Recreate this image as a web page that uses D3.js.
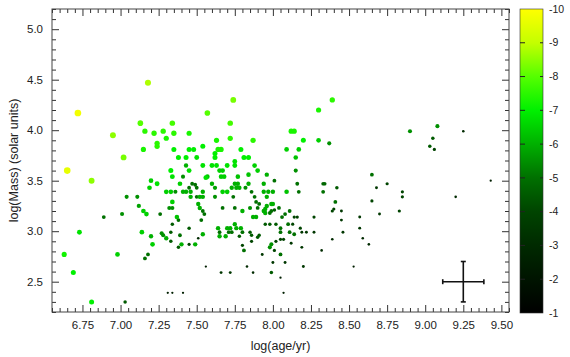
<!DOCTYPE html>
<html>
<head>
<meta charset="utf-8">
<script src="https://cdn.jsdelivr.net/npm/d3@7"></script>
<style>
body { margin: 0; background: #fff; }
svg text { font-family: "Liberation Sans", Arial, sans-serif; fill: #222; }
</style>
</head>
<body>
<svg id="chart" width="570" height="357"></svg>
<script>
// log(age/yr) of each cluster
const ageLog = [
  7.18,6.72,6.95,7.02,6.65,6.81,7.13,7.34,7.16,7.22,
  7.28,7.35,7.45,7.30,7.24,7.24,7.15,7.35,7.45,7.48,
  7.54,7.57,7.38,7.43,7.50,7.43,7.54,7.33,7.45,7.34,
  7.41,7.56,7.20,7.24,7.39,7.47,7.49,7.19,7.45,7.50,
  7.74,7.72,7.72,7.63,7.87,7.64,7.66,7.79,7.62,7.62,
  7.81,7.84,7.75,7.60,7.63,7.70,7.75,7.88,7.65,7.67,
  7.90,7.57,7.66,7.68,7.77,7.84,7.96,8.01,7.60,7.75,
  7.77,7.84,7.94,7.62,7.73,7.76,7.78,7.82,8.12,8.14,
  8.20,8.30,8.39,8.30,8.37,8.09,8.17,8.15,8.15,8.16,
  8.33,8.34,8.42,8.90,9.08,9.05,9.03,9.06,9.25,8.65,
  8.75,8.68,9.43,6.63,6.69,6.73,6.81,6.89,6.98,7.01,
  7.03,7.04,7.11,7.12,7.15,7.17,7.14,7.20,7.21,7.16,
  7.18,7.26,7.27,7.28,7.30,7.33,7.34,7.32,7.34,7.37,
  7.38,7.34,7.33,7.30,7.33,7.39,7.38,7.40,7.45,7.45,
  7.49,7.51,7.54,7.36,7.41,7.43,7.46,7.46,7.50,7.52,
  7.54,7.54,7.51,7.52,7.54,7.55,7.53,7.56,
  7.31,7.34,7.41,7.67,7.70,7.74,7.62,7.86,
  7.88,7.89,7.91,7.94,7.97,8.00,8.09,8.17,7.96,
  7.99,8.00,7.96,7.95,7.94,7.95,
  7.99,7.98,8.01,8.04,8.06,8.08,8.11,8.14,8.16,8.10,8.13,
  7.67,7.75,7.80,7.85,7.90,7.87,7.89,7.95,7.98,8.02,
  7.75,7.64,7.70,7.72,7.76,7.79,7.80,7.65,7.71,7.73,
  7.65,7.69,7.78,7.85,7.86,7.91,7.90,7.86,7.80,
  8.05,8.05,8.05,8.07,8.02,7.99,7.98,8.01,7.81,7.93,8.05,
  8.00,8.08,7.99,8.05,8.07,7.83,7.87,7.66,7.72,
  8.20,8.12,8.19,8.14,8.11,8.18,8.19,8.22,8.27,8.27,
  8.33,8.41,8.40,8.39,8.45,8.45,8.46,8.39,8.32,8.53,8.57,8.57,
  8.85,8.85,8.65,8.70,8.83,8.59,8.63,9.20
];
// log(Mass) in solar units
const massLog = [
  4.47,4.17,3.95,3.73,3.60,3.50,4.07,4.07,3.99,3.97,
  3.99,3.97,3.97,3.92,3.87,3.84,3.81,3.81,3.81,3.81,
  3.84,4.17,3.73,3.73,3.73,3.65,3.65,3.60,3.60,3.54,
  3.54,3.53,3.50,3.47,3.47,3.47,3.46,3.43,3.43,3.43,
  4.30,4.07,3.92,3.90,3.90,3.81,3.81,3.81,3.77,3.73,
  3.73,3.73,3.69,3.65,3.65,3.65,3.65,3.65,3.60,3.60,
  3.60,3.54,3.54,3.54,3.54,3.56,3.56,3.50,3.47,3.47,
  3.47,3.47,3.47,3.43,3.43,3.43,3.43,3.43,3.99,3.99,
  3.90,4.20,4.30,3.90,3.87,3.81,3.81,3.73,3.60,3.47,
  3.47,3.47,3.43,3.99,4.04,3.92,3.84,3.81,3.99,3.56,
  3.47,3.43,3.50,2.77,2.59,2.99,2.30,3.14,2.77,3.17,
  2.30,3.34,3.34,3.25,3.20,3.17,2.99,2.95,2.87,2.73,
  2.77,3.17,2.98,2.96,3.39,3.39,3.29,3.23,3.23,3.14,
  3.11,3.07,2.99,2.93,2.90,2.96,2.84,2.87,3.03,2.87,
  2.87,2.93,2.97,3.39,3.39,3.39,3.39,3.34,3.34,3.34,
  3.34,3.39,3.27,3.23,3.20,3.17,3.11,2.65,
  2.39,2.39,2.39,3.39,3.39,3.34,3.34,3.39,
  3.34,3.29,3.27,3.39,3.39,3.39,3.39,3.39,3.34,
  3.27,3.27,3.25,3.22,3.20,3.18,
  3.20,3.18,3.21,3.23,3.14,3.17,3.20,3.14,3.14,3.07,3.07,
  3.23,3.23,3.20,3.23,3.23,3.14,3.14,3.07,3.07,3.07,
  3.07,3.03,3.03,3.03,3.03,3.03,2.99,2.99,2.99,2.99,
  2.95,2.95,2.95,2.99,2.96,2.96,2.94,2.90,2.86,
  2.99,3.03,2.92,2.92,2.90,2.87,2.84,2.81,2.81,2.77,2.77,
  2.69,2.69,2.59,2.54,2.39,2.65,2.59,2.59,2.59,
  2.65,2.88,2.84,2.97,2.99,3.03,2.99,2.99,3.14,2.99,
  3.39,3.29,3.22,3.20,3.20,3.11,2.99,2.92,2.81,2.65,3.14,3.03,
  3.39,3.34,3.30,3.17,3.20,2.93,2.87,3.34
];
// magnitude (colour bar value)
const magnitude = [
  -8.8,-9.8,-8.5,-8.3,-9.6,-8.5,-8.0,-7.8,-7.5,-7.5,
  -7.5,-7.5,-7.3,-7.3,-7.5,-7.5,-7.3,-7.0,-7.0,-7.0,
  -7.0,-8.0,-7.0,-7.0,-6.8,-6.0,-6.8,-7.0,-6.8,-6.8,
  -5.5,-6.8,-6.5,-6.8,-6.5,-5.0,-5.0,-6.5,-5.0,-5.0,
  -8.3,-7.8,-7.5,-7.3,-7.5,-7.3,-7.3,-7.0,-7.0,-7.0,
  -7.0,-7.0,-6.8,-6.8,-6.8,-6.8,-6.8,-6.5,-6.5,-6.5,
  -6.5,-6.3,-6.5,-6.5,-6.3,-6.3,-6.0,-5.0,-6.0,-6.0,
  -6.0,-6.0,-6.0,-5.8,-6.0,-6.0,-6.0,-5.5,-7.3,-7.3,
  -7.0,-7.3,-7.5,-6.5,-5.5,-6.5,-6.5,-6.3,-5.5,-5.0,
  -4.8,-4.8,-4.5,-5.5,-5.5,-4.5,-4.5,-4.0,-3.0,-5.0,
  -4.0,-3.5,-2.5,-7.2,-7.0,-6.8,-7.0,-5.0,-6.5,-5.5,
  -4.5,-5.5,-5.5,-5.8,-6.5,-6.5,-6.5,-6.0,-6.5,-5.0,
  -5.0,-5.0,-5.5,-5.5,-6.5,-6.5,-6.5,-5.5,-5.5,-6.3,
  -5.0,-4.5,-4.5,-6.0,-4.5,-5.0,-4.5,-6.0,-4.5,-4.0,
  -6.0,-3.0,-6.0,-5.5,-6.0,-6.0,-6.0,-6.0,-5.0,-6.0,
  -6.0,-6.0,-6.0,-6.0,-5.0,-5.0,-5.0,-2.5,
  -2.5,-2.5,-2.5,-6.5,-6.5,-5.0,-5.5,-5.0,
  -5.0,-5.0,-5.0,-6.0,-6.0,-6.0,-6.3,-5.0,-6.0,
  -6.0,-6.0,-6.0,-6.0,-6.0,-6.0,
  -5.0,-5.0,-4.5,-5.0,-5.0,-5.0,-5.0,-4.0,-4.0,-5.0,-4.0,
  -5.0,-5.0,-6.0,-5.5,-5.0,-6.0,-6.0,-4.5,-4.5,-4.5,
  -6.0,-6.0,-6.0,-6.0,-6.0,-6.0,-5.0,-5.0,-5.0,-5.0,
  -6.0,-6.0,-4.5,-4.5,-4.5,-4.5,-4.5,-4.0,-4.0,
  -5.0,-5.0,-4.0,-4.0,-4.0,-5.5,-5.5,-4.0,-5.0,-3.5,-5.0,
  -3.5,-3.5,-4.5,-2.5,-2.5,-3.0,-3.0,-3.5,-3.5,
  -3.5,-3.5,-3.5,-5.0,-5.0,-4.0,-3.5,-3.5,-4.0,-3.5,
  -5.0,-5.0,-4.0,-4.0,-3.5,-3.5,-3.5,-3.0,-3.0,-2.5,-3.5,-3.5,
  -4.0,-4.0,-4.0,-3.5,-4.0,-3.0,-3.0,-3.0
];

// typical error bar
const errPoint = [9.25, 2.5];
const errSize = [0.135, 0.2];

// ticks
const xMajor = [6.75, 7.00, 7.25, 7.50, 7.75, 8.00, 8.25, 8.50, 8.75, 9.00, 9.25, 9.50];
const yMajor = [2.5, 3.0, 3.5, 4.0, 4.5, 5.0];
const cbarTicks = [-10, -9, -8, -7, -6, -5, -4, -3, -2, -1];

// colour map
const colorDomain = [-10, -9, -8, -7, -6, -5, -4, -3, -2, -1];
const colorRange = ["#ffff00", "#c4ff00", "#55ff00", "#00f000", "#00b000", "#007000", "#004400", "#002a00", "#001400", "#000000"];

const svg = d3.select("#chart");
const pLeft = 52, pRight = 509, pTop = 9, pBottom = 312;

const x = d3.scaleLinear().domain([6.55, 9.55]).range([pLeft, pRight]);
const y = d3.scaleLinear().domain([2.2, 5.2]).range([pBottom, pTop]);
const color = d3.scaleLinear().domain(colorDomain).range(colorRange);
const radius = d3.scaleLinear().domain([-1, -10]).range([0.7, 3.4]);

const xMinor = d3.range(6.55, 9.56, 0.05).map(d => +d.toFixed(2)).filter(d => !xMajor.includes(d));
const yMinor = d3.range(2.2, 5.21, 0.1).map(d => +d.toFixed(1)).filter(d => !yMajor.includes(d));

// points, bright ones on top
const pts = ageLog.map((a, i) => ({ a: a, m: massLog[i], v: magnitude[i] }))
  .sort((p, q) => q.v - p.v);

svg.append("g").selectAll("circle")
  .data(pts)
  .enter()
  .append("circle")
  .attr("cx", d => x(d.a))
  .attr("cy", d => y(d.m))
  .attr("r", d => radius(d.v))
  .attr("fill", d => color(d.v));

// error cross
const eg = svg.append("g").attr("stroke", "#111").attr("stroke-width", 1.6);
const ex = x(errPoint[0]), ey = y(errPoint[1]);
const x0 = x(errPoint[0] - errSize[0]), x1 = x(errPoint[0] + errSize[0]);
const y0 = y(errPoint[1] - errSize[1]), y1 = y(errPoint[1] + errSize[1]);
eg.append("line").attr("x1", x0).attr("x2", x1).attr("y1", ey).attr("y2", ey);
eg.append("line").attr("x1", ex).attr("x2", ex).attr("y1", y0).attr("y2", y1);
eg.append("line").attr("x1", x0).attr("x2", x0).attr("y1", ey - 2.5).attr("y2", ey + 2.5);
eg.append("line").attr("x1", x1).attr("x2", x1).attr("y1", ey - 2.5).attr("y2", ey + 2.5);
eg.append("line").attr("x1", ex - 2.5).attr("x2", ex + 2.5).attr("y1", y0).attr("y2", y0);
eg.append("line").attr("x1", ex - 2.5).attr("x2", ex + 2.5).attr("y1", y1).attr("y2", y1);

// axes with inward ticks on all sides
function tickAxis(axis, values, size, tr, fmt) {
  const g = svg.append("g")
    .attr("transform", tr)
    .call(axis.tickValues(values).tickSize(size).tickPadding(9).tickFormat(fmt));
  g.select(".domain").remove();
  g.selectAll("line").attr("stroke", "#333");
  g.selectAll("text").attr("font-size", 11.5).attr("fill", "#222");
  return g;
}
const noLab = () => "";
tickAxis(d3.axisBottom(x), xMajor, -7, `translate(0,${pBottom})`, d3.format(".2f"));
tickAxis(d3.axisBottom(x), xMinor, -4, `translate(0,${pBottom})`, noLab);
tickAxis(d3.axisTop(x), xMajor, -7, `translate(0,${pTop})`, noLab);
tickAxis(d3.axisTop(x), xMinor, -4, `translate(0,${pTop})`, noLab);
tickAxis(d3.axisLeft(y), yMajor, -7, `translate(${pLeft},0)`, d3.format(".1f"));
tickAxis(d3.axisLeft(y), yMinor, -4, `translate(${pLeft},0)`, noLab);
tickAxis(d3.axisRight(y), yMajor, -7, `translate(${pRight},0)`, noLab);
tickAxis(d3.axisRight(y), yMinor, -4, `translate(${pRight},0)`, noLab);

svg.append("rect")
  .attr("x", pLeft).attr("y", pTop)
  .attr("width", pRight - pLeft).attr("height", pBottom - pTop)
  .attr("fill", "none").attr("stroke", "#444").attr("stroke-width", 1);

// axis titles
svg.append("text")
  .attr("x", (pLeft + pRight) / 2).attr("y", 350)
  .attr("text-anchor", "middle").attr("font-size", 12.5)
  .text("log(age/yr)");
svg.append("text")
  .attr("transform", `translate(18,${(pTop + pBottom) / 2}) rotate(-90)`)
  .attr("text-anchor", "middle").attr("font-size", 12.5)
  .text("log(Mass) (solar units)");

// colour bar (top = -10, bottom = -1)
const cb = { x: 520, w: 23, top: 9, bottom: 313 };
const cy = d3.scaleLinear().domain([-1, -10]).range([cb.bottom, cb.top]);
const grad = svg.append("defs").append("linearGradient")
  .attr("id", "cbar").attr("x1", 0).attr("x2", 0).attr("y1", 0).attr("y2", 1);
grad.selectAll("stop")
  .data(colorDomain)
  .enter()
  .append("stop")
  .attr("offset", d => (d + 10) / 9)
  .attr("stop-color", (d, i) => colorRange[i]);
svg.append("rect")
  .attr("x", cb.x).attr("y", cb.top)
  .attr("width", cb.w).attr("height", cb.bottom - cb.top)
  .attr("fill", "url(#cbar)").attr("stroke", "#333").attr("stroke-width", 0.6);

const inner = cbarTicks.filter(d => d !== -10 && d !== -1);
svg.append("g").selectAll("line.l")
  .data(inner).enter().append("line")
  .attr("x1", cb.x).attr("x2", cb.x + 5)
  .attr("y1", d => cy(d)).attr("y2", d => cy(d))
  .attr("stroke", "#222").attr("stroke-width", 1);
svg.append("g").selectAll("line.r")
  .data(inner).enter().append("line")
  .attr("x1", cb.x + cb.w - 3).attr("x2", cb.x + cb.w)
  .attr("y1", d => cy(d)).attr("y2", d => cy(d))
  .attr("stroke", "#222").attr("stroke-width", 1);
svg.append("g").selectAll("text")
  .data(cbarTicks).enter().append("text")
  .attr("x", 549).attr("y", d => cy(d))
  .attr("dy", "0.35em").attr("font-size", 10.5)
  .text(d => d);
</script>
</body>
</html>
